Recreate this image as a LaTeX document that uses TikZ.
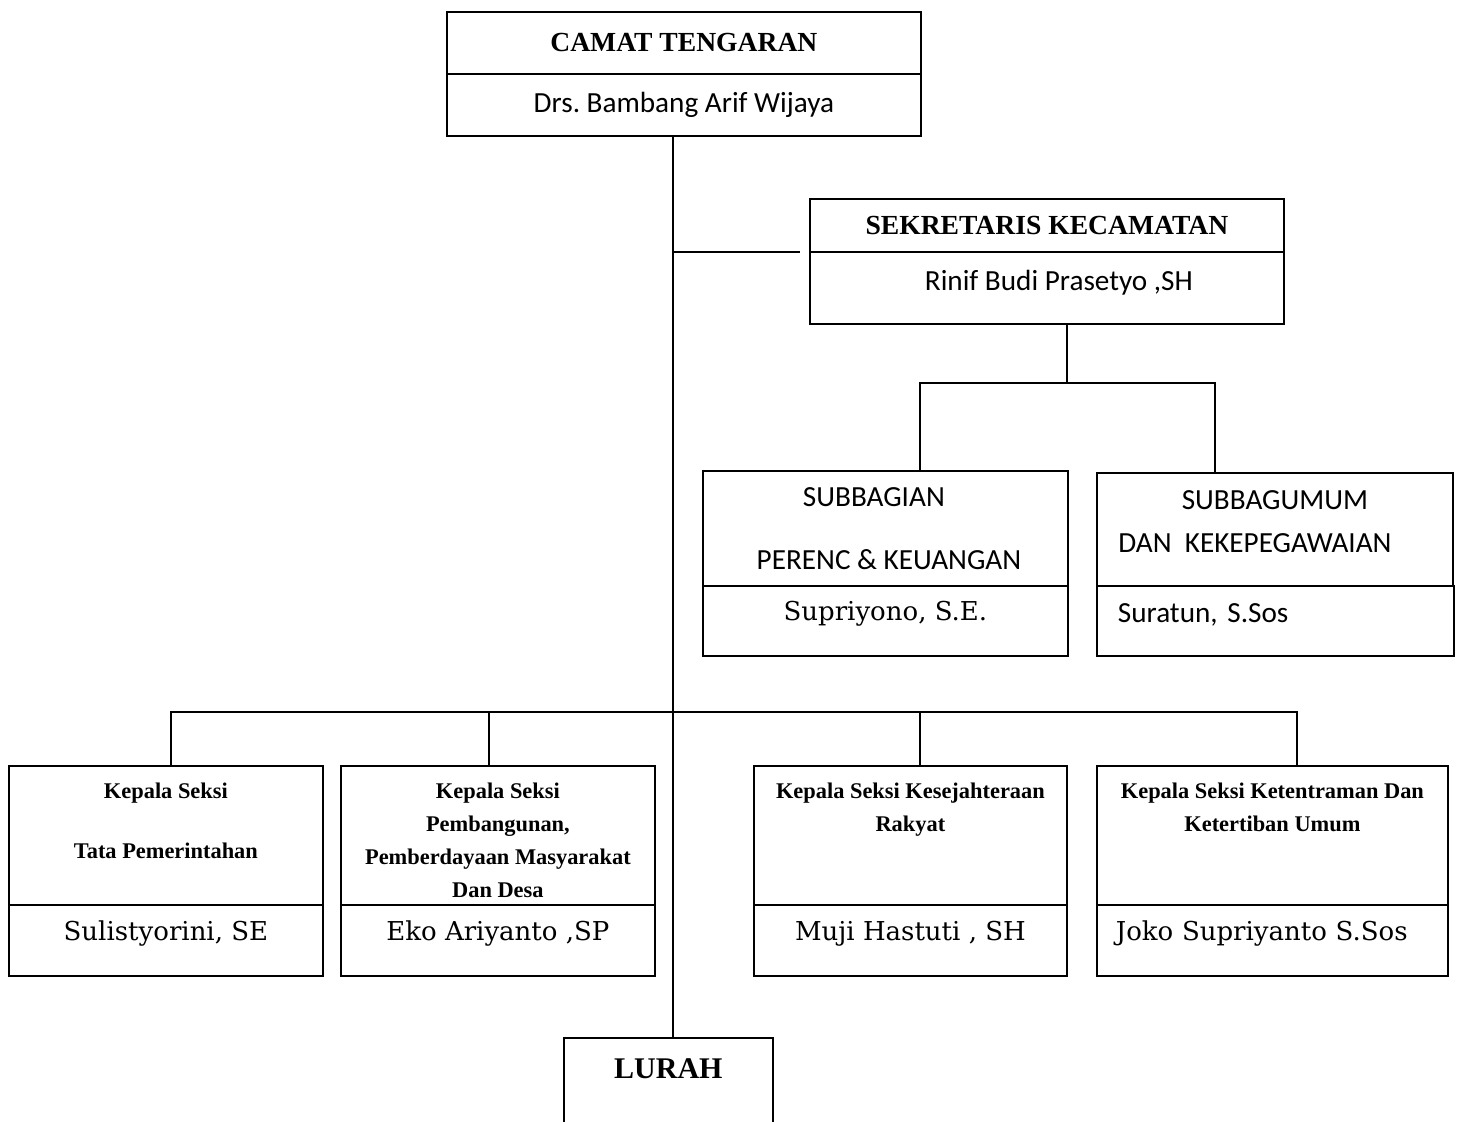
\documentclass[tikz,border=0pt]{standalone}
\usepackage{fontspec}
\setmainfont{Liberation Serif}
\newfontfamily\calfont{Carlito}
\newfontfamily\namefont{DejaVu Serif}
\usetikzlibrary{positioning}
\frenchspacing

\tikzset{
  unit/.style={draw, line width=0.9pt, anchor=north west, inner sep=0pt},
  bighead/.style={unit, font=\fontsize{13.8}{16}\selectfont\bfseries},
  calname/.style={unit, align=center, font=\calfont\fontsize{14.6}{17.5}\selectfont},
  sernm/.style={unit, text depth=10pt, font=\namefont\fontsize{13}{15.6}\selectfont},
  kasi/.style={unit, minimum height=69.5pt},
  kasitext/.style={anchor=north, inner sep=0pt, yshift=-9pt, align=center, font=\fontsize{11.2}{16.5}\selectfont\bfseries},
  link/.style={line width=0.9pt},
}

\begin{document}
\begin{tikzpicture}[x=0.5pt,y=-0.5pt]
\useasboundingbox (0,0) rectangle (1457,1121);

% camat
\node[bighead, minimum width=237pt, minimum height=31pt] (camat) at (446,11) {CAMAT TENGARAN};
\node[calname, minimum width=237pt, minimum height=31pt] (camatnm) at (446,73) {Drs. Bambang Arif Wijaya};

% sekretaris
\node[bighead, minimum width=237pt, minimum height=26.5pt] (sekcam) at (809,198) {SEKRETARIS KECAMATAN};
\node[calname, minimum width=237pt, minimum height=36pt, text depth=7.6pt] (sekcamnm) at (809,251) {\hspace*{12pt}Rinif Budi Prasetyo ,SH};

% subbagian
\node[calname, minimum width=182.5pt, minimum height=57.5pt] (subperenc) at (702,470) {SUBBAGIAN\hspace*{11.5pt}\\[14pt]\hspace*{3.5pt}PERENC \& KEUANGAN};
\node[sernm, minimum width=182.5pt, minimum height=35pt] (subperencnm) at (702,585) {Supriyono, S.E.};
\node[unit, minimum width=178pt, minimum height=56.5pt, label={[anchor=north, inner sep=0pt, yshift=-9.3pt, align=center, font=\calfont\fontsize{14.6}{17.5}\selectfont]north:{SUBBAGUMUM\\[4pt]DAN\ \ KEKEPEGAWAIAN\hspace*{20pt}}}] (subumum) at (1096,472) {};
\node[calname, minimum width=178pt, minimum height=35pt, text width=157.5pt, align=left, inner xsep=10.5pt, text depth=7.6pt] (subumumnm) at (1096,585) {Suratun, S.Sos};

% kepala seksi
\node[kasi, minimum width=157pt, label={[kasitext]north:{Kepala Seksi\\[13.5pt]Tata Pemerintahan}}] (seksi1) at (8,765) {};
\node[sernm, minimum width=157pt, minimum height=35.5pt] (nama1) at (8,904) {Sulistyorini, SE};
\node[kasi, minimum width=157pt, label={[kasitext]north:{Kepala Seksi\\Pembangunan,\\Pemberdayaan Masyarakat\\Dan Desa}}] (seksi2) at (340,765) {};
\node[sernm, minimum width=157pt, minimum height=35.5pt] (nama2) at (340,904) {Eko Ariyanto ,SP};
\node[kasi, minimum width=156.5pt, label={[kasitext]north:{Kepala Seksi Kesejahteraan\\Rakyat}}] (seksi3) at (753,765) {};
\node[sernm, minimum width=156.5pt, minimum height=35.5pt] (nama3) at (753,904) {Muji Hastuti , SH};
\node[kasi, minimum width=175.5pt, label={[kasitext]north:{Kepala Seksi Ketentraman Dan\\Ketertiban Umum}}] (seksi4) at (1096,765) {};
\node[sernm, minimum width=175.5pt, minimum height=35.5pt, text width=156.5pt, align=left, inner xsep=9.5pt] (nama4) at (1096,904) {Joko Supriyanto S.Sos};

% lurah
\node[unit, minimum width=104.5pt, minimum height=60pt, label={[anchor=north, inner sep=0pt, yshift=-10.5pt, font=\fontsize{15}{18}\selectfont\bfseries]north:LURAH}] (lurah) at (563,1037) {};

% lines
\coordinate (bus) at (673,712);
\coordinate (sekjoin) at (800,252);
\coordinate (subbus) at (1067,383);
\coordinate (dropA) at (920,383);
\coordinate (dropB) at (1215,383);
\coordinate (k1) at (171,712);
\coordinate (k2) at (489,712);
\coordinate (k3) at (920,712);
\coordinate (k4) at (1297,712);

\draw[link] (camatnm.south -| bus) -- (lurah.north -| bus);
\draw[link] (bus |- sekjoin) -- (sekjoin);
\draw[link] (sekcamnm.south -| subbus) -- (subbus);
\draw[link] (subperenc.north -| dropA) -- (dropA) -- (dropB) -- (subumum.north -| dropB);
\draw[link] (seksi1.north -| k1) -- (k1) -- (k4) -- (seksi4.north -| k4);
\draw[link] (seksi2.north -| k2) -- (k2);
\draw[link] (seksi3.north -| k3) -- (k3);
\end{tikzpicture}
\end{document}
